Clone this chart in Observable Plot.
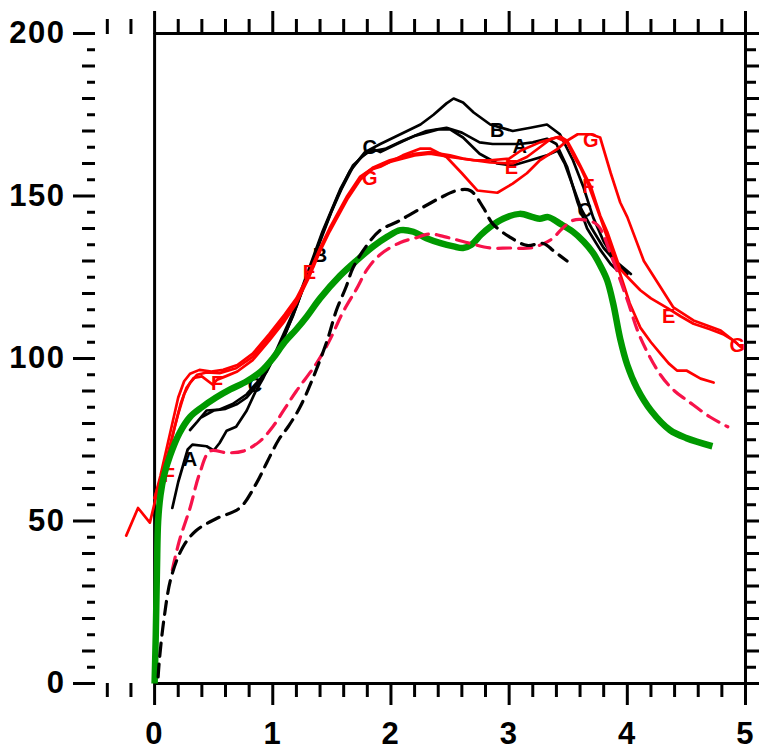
<!DOCTYPE html>
<html>
<head>
<meta charset="utf-8">
<script src="https://cdn.jsdelivr.net/npm/d3@7"></script>
<script src="https://cdn.jsdelivr.net/npm/@observablehq/plot@0.6"></script>
<style>
  html, body { margin: 0; padding: 0; background: #fff; }
  #chart svg { display: block; }
  #chart g[aria-label$="axis tick"] path { stroke-width: 3px; stroke: #000; }
  #chart g[aria-label$="axis tick label"] text { font-weight: bold; font-size: 31px; letter-spacing: 1.5px; }
</style>
</head>
<body>
<div id="chart"></div>
<script>
// ---- tick values ----
const xMajor = [0, 1, 2, 3, 4, 5];
const xMinor = [-0.4, -0.2, 0.2, 0.4, 0.6, 0.8, 1.2, 1.4, 1.6, 1.8, 2.2, 2.4, 2.6, 2.8, 3.2, 3.4, 3.6, 3.8, 4.2, 4.4, 4.6, 4.8];
const yMajor = [0, 50, 100, 150, 200];
const yMid = [10, 20, 30, 40, 60, 70, 80, 90, 110, 120, 130, 140, 160, 170, 180, 190];
const yMinor = [5, 15, 25, 35, 45, 55, 65, 75, 85, 95, 105, 115, 125, 135, 145, 155, 165, 175, 185, 195];

// ---- series (x, y) ----
const lineA = [[0.15,54],[0.2,62],[0.24,67],[0.28,72],[0.32,73.5],[0.44,73],[0.5,71.7],[0.55,74],[0.61,77.8],[0.69,79],[0.78,84],[0.85,89.5],[0.92,94],[1.03,102.5],[1.17,114],[1.3,127],[1.42,139],[1.57,152],[1.68,159.5],[1.8,163.5],[1.95,164.5],[2.1,167],[2.3,170],[2.47,171],[2.6,169.5],[2.75,166.5],[2.86,166],[3.09,166],[3.2,166.5],[3.32,167.6],[3.4,166],[3.49,159],[3.58,148],[3.66,140],[3.77,133.5],[3.86,129],[3.92,127]];
const lineB = [[0.3,78],[0.36,80.5],[0.44,84],[0.55,84.3],[0.66,86],[0.78,89],[0.9,94],[1.0,100],[1.1,107],[1.2,116],[1.3,126],[1.4,136],[1.5,145.5],[1.58,152],[1.68,159],[1.78,163.5],[1.91,166],[2.08,169],[2.25,172],[2.36,175],[2.47,178.5],[2.53,180],[2.61,178.8],[2.7,175.7],[2.84,172],[3.03,170],[3.18,171],[3.32,172],[3.43,169],[3.54,161],[3.63,152.6],[3.71,143.5],[3.8,136],[3.9,130],[4.03,126]];
const lineC = [[0.4,82],[0.5,84],[0.6,84.5],[0.7,86],[0.78,88],[0.85,91],[0.95,96],[1.05,103],[1.17,113],[1.3,126],[1.42,138.5],[1.55,150],[1.65,157.5],[1.75,162],[1.85,164.5],[1.91,163.5],[2.05,166],[2.2,168.5],[2.4,170.5],[2.5,170.5],[2.61,168],[2.75,163],[2.9,160],[3.03,159.4],[3.18,161],[3.32,162.5],[3.41,164],[3.47,160],[3.54,153],[3.61,146],[3.7,140],[3.8,134],[3.92,129],[4.0,126]];
const lineE = [[0,57],[0.05,63],[0.1,69],[0.15,76],[0.2,83],[0.25,89],[0.3,92.5],[0.36,95],[0.44,95.7],[0.55,95.5],[0.69,97],[0.83,100.5],[0.97,106.5],[1.1,112.5],[1.2,117.5],[1.3,125],[1.4,133.5],[1.48,139.4],[1.63,149.5],[1.74,155.5],[1.85,158.8],[1.99,161],[2.2,163],[2.33,163.5],[2.5,162.5],[2.61,161.5],[2.84,160.3],[3.03,160],[3.15,162],[3.26,165],[3.35,167.5],[3.43,168.3],[3.49,167],[3.55,163],[3.6,159.5],[3.69,153],[3.77,144],[3.83,139],[3.94,127.5],[4.03,124],[4.11,121],[4.2,118.5],[4.34,115.5],[4.45,113],[4.56,110.7],[4.7,109],[4.81,107.5],[4.9,105.5],[4.96,103.5]];
const lineF = [[-0.24,45.5],[-0.14,54],[-0.04,49.5],[0.02,58.5],[0.07,64],[0.12,71],[0.17,79],[0.22,86],[0.27,91],[0.33,94],[0.4,94.5],[0.49,92],[0.53,93.5],[0.6,94.5],[0.7,96],[0.83,99.5],[0.97,105.5],[1.1,111.5],[1.2,117],[1.3,124.5],[1.4,133],[1.48,139],[1.63,149],[1.74,155],[1.85,158.5],[1.99,160.5],[2.2,162.5],[2.33,163],[2.5,162],[2.7,161],[2.84,161],[3.0,161.5],[3.1,164],[3.26,166.5],[3.4,168],[3.49,166.5],[3.55,162],[3.6,159],[3.67,153.5],[3.77,143.5],[3.86,134],[3.94,126],[4.02,117],[4.11,109.5],[4.2,105],[4.28,101.5],[4.35,98.5],[4.42,96.3],[4.5,96.3],[4.62,93.8],[4.73,92.6]];
const lineG = [[0,57],[0.05,64],[0.1,72],[0.15,80],[0.2,88],[0.25,93],[0.3,95.3],[0.38,96.5],[0.48,96],[0.58,96.5],[0.7,98],[0.83,101.5],[0.97,107.5],[1.1,113.5],[1.2,118.5],[1.3,125.5],[1.4,134],[1.48,140],[1.63,150],[1.74,156],[1.82,158],[1.91,159],[2.1,162.5],[2.25,164.6],[2.33,164.6],[2.47,162],[2.6,157],[2.73,151.7],[2.9,151],[3.03,153.8],[3.15,157],[3.26,161],[3.41,164.5],[3.49,167],[3.58,169],[3.69,169],[3.77,168],[3.86,157],[3.94,148],[4.0,143.5],[4.14,130],[4.28,122],[4.39,115.7],[4.56,111.7],[4.79,108.6],[4.93,104.6]];
const blackDashed = [[0.03,2],[0.04,7],[0.08,20],[0.14,32.6],[0.24,42],[0.35,47],[0.52,50.7],[0.72,54],[0.86,61.5],[0.95,68],[1.05,75],[1.13,79],[1.23,85],[1.34,94],[1.46,105.5],[1.54,115],[1.62,122],[1.68,128],[1.8,135],[1.91,139.5],[2.05,142],[2.22,145.5],[2.42,149.5],[2.56,151.7],[2.67,151.7],[2.78,146.5],[2.86,141.5],[3.0,137.5],[3.15,134.8],[3.29,135.4],[3.38,133],[3.49,130]];
const redDashed = [[0.15,35],[0.21,44],[0.3,54],[0.38,64.5],[0.47,71.5],[0.61,71],[0.75,71.5],[0.89,74.5],[1.0,79],[1.1,84.5],[1.2,90],[1.37,98.5],[1.48,105.5],[1.59,114],[1.71,121.5],[1.8,127.5],[1.91,132],[2.08,135.7],[2.2,137],[2.33,138.3],[2.45,137.5],[2.61,136],[2.84,134],[3.0,134],[3.18,134],[3.3,135.5],[3.37,137],[3.45,140],[3.54,142.5],[3.66,142.5],[3.75,141],[3.86,132],[4.0,118],[4.11,106.5],[4.28,95],[4.4,90],[4.51,87],[4.7,82],[4.85,79]];
const greenLine = [[0,0],[0.01,15],[0.02,35],[0.03,50],[0.05,58],[0.08,64],[0.13,70],[0.21,77],[0.3,82],[0.4,85],[0.52,88],[0.64,90.5],[0.78,93],[0.9,96],[1.0,100],[1.1,105],[1.2,109],[1.29,113],[1.4,118.5],[1.57,125.5],[1.72,130.5],[1.85,134.5],[1.97,137.5],[2.08,139.5],[2.19,139],[2.3,137],[2.42,135.5],[2.53,134.5],[2.61,134],[2.68,135],[2.76,138],[2.84,140.5],[2.95,143],[3.09,144.5],[3.2,143.5],[3.26,143],[3.33,143.5],[3.43,141.5],[3.54,139],[3.63,136],[3.71,132.5],[3.78,128],[3.83,124],[3.88,117],[3.94,106],[4.0,98],[4.08,91],[4.2,84],[4.36,78],[4.5,75.5],[4.72,73]];

// ---- curve letter labels ----
const labelsA = [[0.3,69],[3.09,165.2]];
const labelsB = [[1.4,131.7],[2.9,170.2]];
const labelsC = [[0.85,91.7],[1.82,164.8],[3.64,145.5]];
const labelsE = [[1.31,126.5],[3.02,158.8],[4.35,113]];
const labelsF = [[0.12,64],[0.53,92.3],[3.67,153]];
const labelsG = [[1.82,155.4],[3.69,167],[4.93,104]];

const X = d => d[0], Y = d => d[1];
const FONT = "'Liberation Sans', Arial, Helvetica, sans-serif";
const blank = () => "";

function solid(data, color) {
  return Plot.line(data, {x: X, y: Y, stroke: color, strokeWidth: 2.7, strokeLinejoin: "round", strokeLinecap: "round"});
}
function letters(data, txt, color) {
  return Plot.text(data, {x: X, y: Y, text: () => txt, fill: color, fontSize: 20, fontWeight: "bold", fontFamily: FONT});
}

const chart = Plot.plot({
  width: 759,
  height: 747,
  marginLeft: 95,
  marginRight: 14,
  marginTop: 33,
  marginBottom: 64,
  x: {domain: [-0.5, 5], axis: null},
  y: {domain: [0, 200], axis: null},
  style: {fontFamily: FONT, background: "white", overflow: "visible"},
  marks: [
    // frame
    Plot.ruleY([0, 200], {x1: 0, x2: 5, stroke: "black", strokeWidth: 3}),
    Plot.ruleX([0, 5], {y1: 0, y2: 200, stroke: "black", strokeWidth: 3}),
    // bottom ticks
    Plot.axisX(xMinor, {anchor: "bottom", tickSize: 14, tickFormat: blank}),
    Plot.axisX(xMajor, {anchor: "bottom", tickSize: 22, tickPadding: 16, fontSize: 31, fontWeight: "bold", fill: "black", tickFormat: d => String(d)}),
    // top ticks
    Plot.axisX(xMinor, {anchor: "top", tickSize: 15, tickFormat: blank}),
    Plot.axisX(xMajor, {anchor: "top", tickSize: 23, tickFormat: blank}),
    // left ticks
    Plot.axisY(yMinor, {anchor: "left", tickSize: 8, tickFormat: blank}),
    Plot.axisY(yMid, {anchor: "left", tickSize: 13, tickFormat: blank}),
    Plot.axisY(yMajor, {anchor: "left", tickSize: 22, tickPadding: 8, fontSize: 31, fontWeight: "bold", fill: "black", tickFormat: d => String(d)}),
    // right ticks
    Plot.axisY(yMinor, {anchor: "right", tickSize: 10, tickFormat: blank}),
    Plot.axisY(yMid.concat(yMajor), {anchor: "right", tickSize: 14, tickFormat: blank}),
    // black solid curves
    solid(lineA, "black"), solid(lineB, "black"), solid(lineC, "black"),
    letters(labelsA, "A", "black"), letters(labelsB, "B", "black"), letters(labelsC, "C", "black"),
    // red solid curves
    solid(lineE, "#ff0000"), solid(lineF, "#ff0000"), solid(lineG, "#ff0000"),
    letters(labelsE, "E", "#ff0000"), letters(labelsF, "F", "#ff0000"), letters(labelsG, "G", "#ff0000"),
    // thick green
    Plot.line(greenLine, {x: X, y: Y, stroke: "#009900", strokeWidth: 6.5, curve: "catmull-rom", strokeLinecap: "butt"}),
    // dashed
    Plot.line(redDashed, {x: X, y: Y, stroke: "#f7124a", strokeWidth: 3.2, strokeDasharray: "13,8", curve: "catmull-rom"}),
    Plot.line(blackDashed, {x: X, y: Y, stroke: "black", strokeWidth: 3.2, strokeDasharray: "13,8", curve: "catmull-rom"})
  ]
});
document.getElementById("chart").appendChild(chart);
</script>
</body>
</html>
